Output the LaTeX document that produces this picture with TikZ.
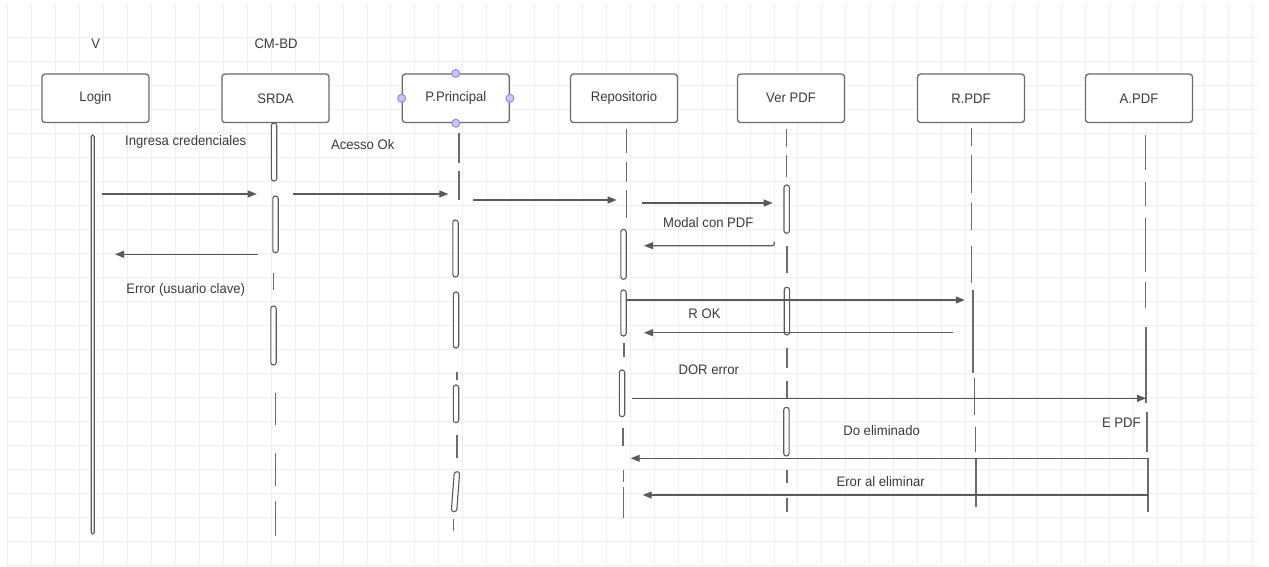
\documentclass[tikz,border=0pt]{standalone}
\usepackage{fontspec}
\setmainfont{Liberation Sans}
\newfontfamily\labfont[FakeStretch=0.95]{Liberation Sans}
\usetikzlibrary{arrows.meta}
\definecolor{gridc}{HTML}{EFEFEF}
\definecolor{linec}{HTML}{5A5A5A}
\definecolor{txtc}{HTML}{3A3A3A}
\definecolor{hfill}{HTML}{C9C6F5}
\definecolor{hdraw}{HTML}{8C88D8}
\tikzset{
  lbl/.style={font=\labfont\fontsize{13.8}{16}\selectfont, text=txtc, inner sep=0pt},
  actor/.style={draw=linec!90, line width=1.3pt, rounded corners=3pt, fill=white,
    minimum width=107pt, minimum height=48.5pt, inner sep=0pt,
    font=\labfont\fontsize{13.8}{16}\selectfont, text=txtc},
  barsty/.style={draw=linec, line width=1.1pt, fill=white, rounded corners=2.6pt},
  lifesty/.style={draw=linec!90, line width=1.2pt},
  msg/.style={draw=linec, line width=1.2pt, -{Triangle[length=9pt,width=7pt]}},
  handle/.style={circle, draw=hdraw, fill=hfill, line width=0.9pt, minimum size=8pt, inner sep=0pt}
}
\newcommand{\actbar}[3]{\draw[barsty] (#1-2.7,#2) rectangle (#1+2.7,#3);}
\newcommand{\lseg}[3]{\draw[lifesty] (#1,#2) -- (#1,#3);}
\begin{document}
\begin{tikzpicture}[x=1pt,y=-1pt]
\useasboundingbox (0,0) rectangle (1269,567);
\fill[white] (0,0) rectangle (1269,567);
% grid
\foreach \k in {0,...,52} \draw[gridc, line width=0.7pt] (7.8+23.94*\k,4) -- (7.8+23.94*\k,566);
\foreach \k in {1,...,23} \draw[gridc, line width=0.7pt] (7.8,13.3+24*\k) -- (1258,13.3+24*\k);

% top labels
\node[lbl] (v) at (95.7,43.3) {V};
\node[lbl] (cmbd) at (276,43.3) {CM-BD};

% actors
\node[actor] (login) at (95.5,98.3) {Login};
\node[actor] (srda) at (275.5,98.3) {SRDA};
\node[actor] (pp) at (455.8,98.3) {P.Principal};
\node[actor] (repo) at (624,98.3) {Repositorio};
\node[actor] (ver) at (791,98.3) {Ver PDF};
\node[actor] (rpdf) at (971,98.3) {R.PDF};
\node[actor] (apdf) at (1139,98.3) {A.PDF};
\node[handle] (h1) at (pp.north) {};
\node[handle] (h2) at (pp.south) {};
\node[handle] (h3) at (pp.west) {};
\node[handle] (h4) at (pp.east) {};

% Login lifeline
\draw[barsty, rounded corners=1.5pt] (91.2,135) rectangle (94.2,534);

% SRDA lifeline
\actbar{274}{123}{181}
\actbar{275.5}{196}{252.7}
\lseg{273.5}{273}{290}
\actbar{273.5}{306}{365}
\lseg{275.5}{392.7}{425}
\lseg{275.5}{452.7}{485.7}
\lseg{275.5}{500.7}{536}

% P.Principal lifeline
\lseg{459}{133}{163}
\lseg{459}{170.7}{200}
\actbar{455.5}{220}{277}
\actbar{456}{292}{348}
\lseg{457}{371.7}{380}
\actbar{456}{385}{422.7}
\lseg{457}{435}{458}
\draw[barsty] (454.3,471.7) -- (459.7,471.7) -- (456.7,511.7) -- (451.3,511.7) -- cycle;
\lseg{453.5}{519}{531}

% Repositorio lifeline
\lseg{626.7}{129}{153}
\lseg{626.7}{161.7}{181.7}
\lseg{626.7}{190}{218}
\actbar{623.5}{229.3}{279.3}
\actbar{623.5}{290}{336}
\lseg{624}{343}{357}
\actbar{622}{370}{416.7}
\lseg{623}{428}{446}
\lseg{623.5}{470}{481.7}
\lseg{623.5}{486.7}{518.3}

% Ver PDF lifeline
\lseg{786.7}{129.3}{146.7}
\lseg{786.7}{155}{176.7}
\actbar{786.7}{185}{233.3}
\lseg{787}{246}{273.3}
\actbar{786.9}{287.3}{335}
\lseg{787}{348}{368}
\lseg{787}{380.7}{398.3}
\actbar{786.4}{407.3}{456}
\lseg{787}{470}{482.7}
\lseg{787}{498}{511.7}

% R.PDF lifeline
\lseg{971.3}{128.3}{146}
\lseg{971.3}{155}{193.3}
\lseg{971.3}{203.3}{230}
\lseg{971.5}{246}{283.3}
\lseg{973}{290}{373}
\lseg{974.5}{378}{415}
\lseg{975.4}{426.7}{451.7}
\lseg{976}{458.3}{506.7}

% A.PDF lifeline
\lseg{1145.5}{135}{170}
\lseg{1145.5}{181.7}{206}
\lseg{1145.5}{218.3}{272}
\lseg{1145.5}{281.7}{308.3}
\lseg{1146}{326.7}{403.3}
\lseg{1147}{411.7}{451.7}
\lseg{1148}{458}{511.7}

% message endpoints
\coordinate (m1s) at (101.7,194);   \coordinate (m1e) at (256.7,194);
\coordinate (m2s) at (293.3,194);   \coordinate (m2e) at (448.3,194);
\coordinate (m3s) at (473.3,200);   \coordinate (m3e) at (616.7,200);
\coordinate (m4s) at (258.3,254.3); \coordinate (m4e) at (115,254.3);
\coordinate (m5s) at (642,203);     \coordinate (m5e) at (772.7,203);
\coordinate (m6s) at (774.3,241.5); \coordinate (m6e) at (644,245.7);
\coordinate (m7s) at (625.6,300);   \coordinate (m7e) at (964.8,300);
\coordinate (m8s) at (953.2,332.7); \coordinate (m8e) at (644,332.7);
\coordinate (m9s) at (632,398.3);   \coordinate (m9e) at (1146,398.3);
\coordinate (m10s) at (1149,458.3); \coordinate (m10e) at (630.7,458.3);
\coordinate (m11s) at (1149,495);   \coordinate (m11e) at (642.7,495);

\draw[msg] (m1s) -- (m1e);
\draw[msg] (m2s) -- (m2e);
\draw[msg] (m3s) -- (m3e);
\draw[msg] (m4s) -- (m4e);
\draw[msg] (m5s) -- (m5e);
\draw[msg, rounded corners=2pt] (m6s) |- (m6e);
\draw[msg] (m7s) -- (m7e);
\draw[msg] (m8s) -- (m8e);
\draw[msg] (m9s) -- (m9e);
\draw[msg] (m10s) -- (m10e);
\draw[msg] (m11s) -- (m11e);

% labels
\node[lbl] (l1) at (185.7,142.3) {Ingresa credenciales};
\node[lbl] (l2) at (362.7,145) {Acesso Ok};
\node[lbl] (l3) at (185.7,290) {Error (usuario clave)};
\node[lbl] (l4) at (708.3,222.7) {Modal con PDF};
\node[lbl] (l5) at (704.5,313.3) {R OK};
\node[lbl] (l6) at (708.8,370) {DOR error};
\node[lbl] (l7) at (1121.3,422.7) {E PDF};
\node[lbl] (l8) at (881.6,430.7) {Do eliminado};
\node[lbl] (l9) at (880.7,481.7) {Eror al eliminar};
\end{tikzpicture}
\end{document}
